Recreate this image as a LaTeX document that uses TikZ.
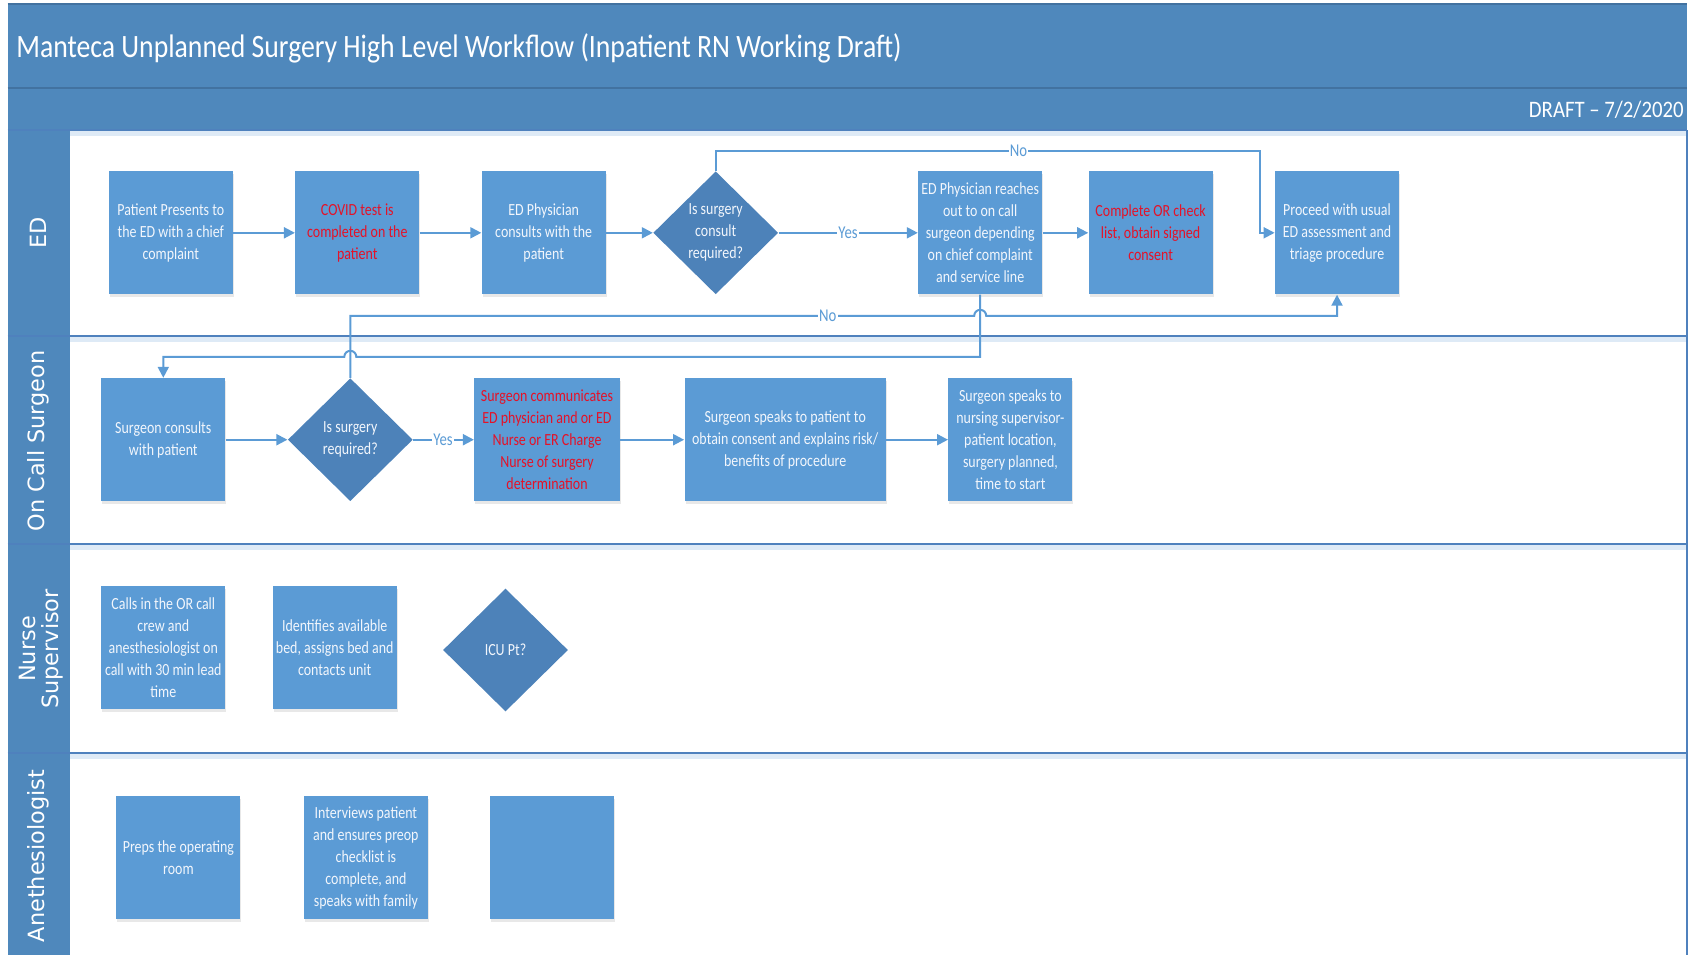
\documentclass[tikz,border=0pt]{standalone}
\usepackage{fontspec}
\setmainfont{Carlito}
\newfontfamily\boxfont[FakeStretch=0.82]{Carlito}
\newfontfamily\titlefont[FakeStretch=0.85]{Carlito}
\newfontfamily\draftfont[FakeStretch=0.88]{Carlito}
\newfontfamily\lanefont{DejaVu Sans}
\usetikzlibrary{arrows.meta,shapes.geometric,calc,shadows}
\definecolor{hdr}{RGB}{79,136,188}
\definecolor{hdrdark}{RGB}{66,114,160}
\definecolor{boxc}{RGB}{91,155,213}
\definecolor{dia}{RGB}{77,130,185}
\definecolor{lnc}{RGB}{91,155,213}
\definecolor{sep}{RGB}{79,129,189}
\definecolor{sepglow}{RGB}{222,234,246}
\definecolor{redt}{RGB}{228,18,40}
\definecolor{txt}{RGB}{242,246,252}
\tikzset{
  proc/.style={rectangle, fill=boxc, minimum width=62pt, minimum height=61.5pt,
    inner sep=1pt, align=center, text=txt,
    font=\boxfont\fontsize{8.5pt}{11pt}\selectfont,
    drop shadow={opacity=0.18, shadow xshift=0.5pt, shadow yshift=-1.2pt}},
  redproc/.style={proc, text=redt},
  dec/.style={diamond, fill=dia, minimum width=62.5pt, minimum height=61.5pt,
    inner sep=0pt, aspect=1},
  dectext/.style={align=center, text=txt, font=\boxfont\fontsize{8.5pt}{11pt}\selectfont},
  conn/.style={draw=lnc, line width=1pt, -{Triangle[length=5.5pt,width=5.5pt]}},
  lbl/.style={fill=white, text=lnc, inner sep=0.6pt, font=\boxfont\fontsize{9pt}{10pt}\selectfont},
  lane/.style={text=white, font=\lanefont\fontsize{11.2pt}{11.6pt}\selectfont, rotate=90, align=center},
  lanesep/.style={draw=sep, line width=1.2pt},
}
\begin{document}
\begin{tikzpicture}[x=0.5pt, y=-0.5pt]
\useasboundingbox (0,0) rectangle (1690,955);
% header bands
\fill[hdr] (7.5,4) rectangle (1687,130);
\draw[hdrdark, line width=0.8pt] (7.5,4) -- (1687,4);
\draw[hdrdark, line width=1.2pt] (7.5,88) -- (1687,88);
\node[anchor=west, text=white, font=\titlefont\fontsize{16.3pt}{19pt}\selectfont, inner sep=0] (title) at (16,48) {Manteca Unplanned Surgery High Level Workflow (Inpatient RN Working Draft)};
\node[anchor=east, text=white, font=\draftfont\fontsize{11.8pt}{14pt}\selectfont, inner sep=0] (draft) at (1684,109.5) {DRAFT – 7/2/2020};
% lane column
\fill[hdr] (7.5,130) rectangle (70,955);
% lane separators
\foreach \yy in {130,336,544,753}{
  \fill[sepglow] (70,\yy+1) rectangle (1687,\yy+6);
  \draw[lanesep] (7.5,\yy) -- (1687,\yy);
}
\draw[sep, line width=0.8pt] (1687,130) -- (1687,955);
% lane labels
\node[lane] (lED) at (38.8,233) {ED};
\node[lane] (lOCS) at (38.8,441) {On Call Surgeon};
\node[lane] (lNS) at (41.5,649) {Nurse\\Supervisor};
\node[lane] (lAN) at (38.8,856) {Anethesiologist};

% ED lane
\node[proc] (b1) at (170.8,232.8) {Patient Presents to\\the ED with a chief\\complaint};
\node[redproc] (b2) at (357.3,232.8) {COVID test is\\completed on the\\patient};
\node[proc] (b3) at (543.7,232.8) {ED Physician\\consults with the\\patient};
\node[dec] (d1) at (715.7,232.8) {};
\node[dectext] (d1t) at (d1.center) {Is surgery\\consult\\required?};
\node[proc] (b5) at (980.2,232.8) {ED Physician reaches\\out to on call\\surgeon depending\\on chief complaint\\and service line};
\node[redproc] (b6) at (1150.6,232.8) {Complete OR check\\list, obtain signed\\consent};
\node[proc] (b7) at (1337,232.8) {Proceed with usual\\ED assessment and\\triage procedure};

% On call surgeon lane
\node[proc] (s1) at (163.3,439.7) {Surgeon consults\\with patient};
\node[dec] (d2) at (350.3,439.7) {};
\node[dectext] (d2t) at (d2.center) {Is surgery\\required?};
\node[redproc, minimum width=72.7pt] (s3) at (547,439.7) {Surgeon communicates\\ED physician and or ED\\Nurse or ER Charge\\Nurse of surgery\\determination};
\node[proc, minimum width=100.7pt] (s4) at (785.2,439.7) {Surgeon speaks to patient to\\obtain consent and explains risk/\\benefits of procedure};
\node[proc] (s5) at (1010.4,439.7) {Surgeon speaks to\\nursing supervisor-\\patient location,\\surgery planned,\\time to start};

% Nurse supervisor lane
\node[proc] (n1) at (163.3,647.8) {Calls in the OR call\\crew and\\anesthesiologist on\\call with 30 min lead\\time};
\node[proc] (n2) at (334.7,647.8) {Identifies available\\bed, assigns bed and\\contacts unit};
\node[dec] (n3) at (505.5,650) {};
\node[dectext] (n3t) at (n3.center) {ICU Pt?};

% Anesthesiologist lane
\node[proc] (a1) at (178.4,857.9) {Preps the operating\\room};
\node[proc] (a2) at (365.9,857.9) {Interviews patient\\and ensures preop\\checklist is\\complete, and\\speaks with family};
\node[proc] (a3) at (552.4,857.9) {};

% connectors ED
\draw[conn] (b1.east) -- (b2.west);
\draw[conn] (b2.east) -- (b3.west);
\draw[conn] (b3.east) -- (d1.west);
\draw[conn] (d1.east) -- (b5.west);
\node[lbl] (yes1) at (848,232.8) {Yes};
\draw[conn] (b5.east) -- (b6.west);
\coordinate (cTop) at (1260,150.9);
\draw[conn] (d1.north) |- (cTop) |- (b7.west);
\node[lbl] (no1) at (1018.5,150.9) {No};

% No from d2 to b7, hopping over b5 line
\coordinate (hopA) at (974.2,315.8);
\draw[conn] (d2.north) |- (hopA) arc[start angle=180, end angle=0, radius=3pt] -| (b7.south);
\node[lbl] (no2) at (827.7,315.8) {No};

% b5 to s1, hopping over d2 line
\coordinate (cB5) at (980.2,356.8);
\coordinate (hopB) at (356.3,356.8);
\draw[conn] (b5.south) -- (cB5) -- (hopB) arc[start angle=0, end angle=180, radius=3pt] -| (s1.north);

% connectors OCS
\draw[conn] (s1.east) -- (d2.west);
\draw[conn] (d2.east) -- (s3.west);
\node[lbl] (yes2) at (443,439.7) {Yes};
\draw[conn] (s3.east) -- (s4.west);
\draw[conn] (s4.east) -- (s5.west);
\end{tikzpicture}
\end{document}
